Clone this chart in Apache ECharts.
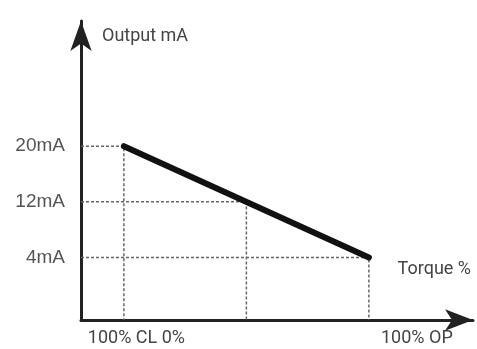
<!DOCTYPE html>
<html>
<head>
<meta charset="utf-8">
<script src="https://cdn.jsdelivr.net/npm/echarts@6/dist/echarts.min.js"></script>
<style>html,body{margin:0;padding:0;background:#fff}#c{width:477px;height:349px}</style>
</head>
<body>
<div id="c"></div>
<script>
// Torque (%: -100 = 100% CL, 0 = 0%, 100 = 100% OP) vs output current (mA)
const torque = [-100, 100];
const outputMA = [20, 4];
const guideTorque = [-100, 0, 100];
const guideMA = [20, 12, 4];
const yTickValues = [4, 12, 20];
const yTickLabels = ['4mA', '12mA', '20mA'];
const xTickValues = [-100, 100];
const xTickLabels = ['100% CL 0%', '100% OP'];

const X_MIN = -135, X_MAX = 185, Y_MIN = -5, Y_MAX = 38;

const series = [];
guideTorque.forEach((t, i) => {
  series.push({
    type: 'line', silent: true, symbol: 'none', z: 1,
    data: [[X_MIN, guideMA[i]], [t, guideMA[i]], [t, Y_MIN]],
    lineStyle: { color: '#666', width: 1.5, type: [3, 2] }
  });
});
series.push({
  type: 'line', symbol: 'none', z: 5,
  data: torque.map((t, i) => [t, outputMA[i]]),
  lineStyle: { color: '#111', width: 6, cap: 'round' }
});

const chart = echarts.init(document.getElementById('c'));
chart.setOption({
  animation: false,
  backgroundColor: '#fff',
  grid: { left: 81, right: 4, top: 21, bottom: 29 },
  xAxis: {
    type: 'value', min: X_MIN, max: X_MAX,
    splitLine: { show: false },
    axisTick: { show: false },
    axisLine: { onZero: false, lineStyle: { color: '#222', width: 3 }, symbol: ['none', 'arrow'], symbolSize: [16, 28] },
    name: 'Torque %', nameLocation: 'end', nameGap: -2,
    nameTextStyle: { fontFamily: 'Roboto', fontSize: 18, color: '#444', align: 'right', verticalAlign: 'bottom', padding: [0, 0, 42, 0] },
    axisLabel: {
      customValues: xTickValues, margin: 9,
      formatter: v => {
        const i = xTickValues.indexOf(v);
        return i === 0 ? '{a|' + xTickLabels[0] + '}' : '{b|' + xTickLabels[1] + '}';
      },
      rich: {
        a: { fontFamily: 'Roboto', fontSize: 18, color: '#444', padding: [0, 0, 0, 25] },
        b: { fontFamily: 'Roboto', fontSize: 18, color: '#444', padding: [0, 0, 0, 96] }
      }
    }
  },
  yAxis: {
    type: 'value', min: Y_MIN, max: Y_MAX,
    splitLine: { show: false },
    axisTick: { show: false },
    axisLine: { onZero: false, lineStyle: { color: '#222', width: 3 }, symbol: ['none', 'arrow'], symbolSize: [16, 30] },
    name: 'Output mA', nameLocation: 'end', nameGap: -15,
    nameTextStyle: { fontFamily: 'Roboto', fontSize: 18, color: '#444', align: 'left', verticalAlign: 'middle', padding: [0, 0, 0, 21] },
    axisLabel: {
      customValues: yTickValues, margin: 16,
      fontFamily: 'Liberation Sans', fontSize: 19, color: '#555',
      formatter: v => yTickLabels[yTickValues.indexOf(v)]
    }
  },
  series: series
});
</script>
</body>
</html>
